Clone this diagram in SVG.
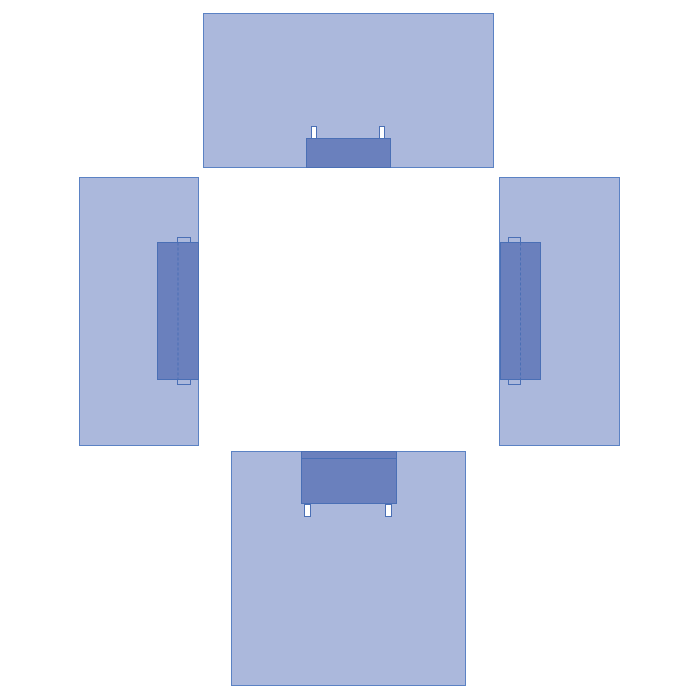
<svg xmlns="http://www.w3.org/2000/svg" width="700" height="700" viewBox="0 0 700 700">
<style>
.room{fill:#abb8dc;stroke:#5b82c4;stroke-width:1}
.desk{fill:#6a80bd;stroke:#4a6fb5;stroke-width:1}
.leg{fill:#ffffff;stroke:#4a6fb5;stroke-width:1}
.chair{fill:none;stroke:#4a6fb5;stroke-width:1}
.dash{fill:none;stroke:#4a6fb5;stroke-width:1;stroke-dasharray:3,2}
</style>
<rect width="700" height="700" fill="#ffffff"/>
<g id="room-top">
<rect class="room" x="203.5" y="13.5" width="290" height="154"/>
<rect class="leg" x="311.5" y="126.5" width="5" height="12"/>
<rect class="leg" x="379.5" y="126.5" width="5" height="12"/>
<rect class="desk" x="306.5" y="138.5" width="84" height="29"/>
</g>
<g id="room-left">
<rect class="room" x="79.5" y="177.5" width="119" height="268"/>
<rect class="chair" x="177.5" y="237.5" width="13" height="147"/>
<rect class="desk" x="157.5" y="242.5" width="41" height="137"/>
<line class="dash" x1="178" y1="242.5" x2="178" y2="379.5"/>
</g>
<g id="room-right">
<rect class="room" x="499.5" y="177.5" width="120" height="268"/>
<rect class="chair" x="508.5" y="237.5" width="12" height="147"/>
<rect class="desk" x="500.5" y="242.5" width="40" height="137"/>
<line class="dash" x1="520.5" y1="242.5" x2="520.5" y2="379.5"/>
</g>
<g id="room-bottom">
<rect class="room" x="231.5" y="451.5" width="234" height="234"/>
<rect class="leg" x="304.5" y="504.5" width="6" height="12"/>
<rect class="leg" x="385.5" y="504.5" width="6" height="12"/>
<rect class="desk" x="301.5" y="451.5" width="95" height="52"/>
<line class="desk" x1="301.5" y1="458.5" x2="396.5" y2="458.5"/>
</g>
<g id="connectors"></g>
</svg>
